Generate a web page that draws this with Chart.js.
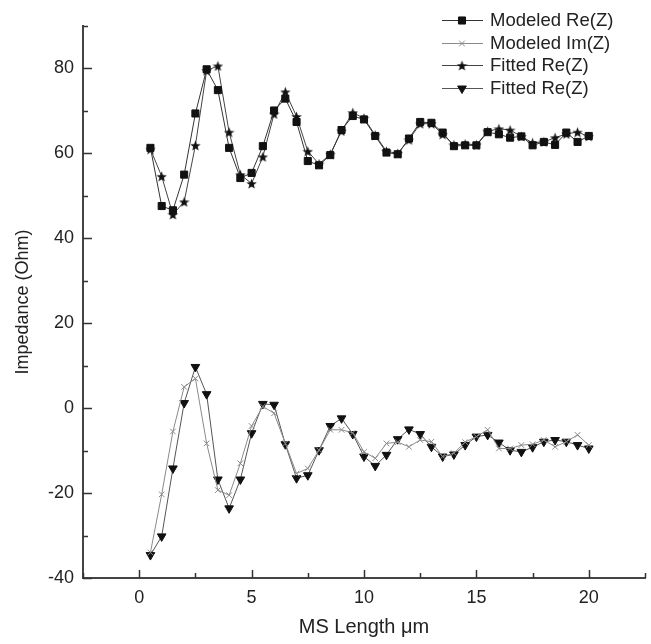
<!DOCTYPE html>
<html>
<head>
<meta charset="utf-8">
<script src="https://cdn.jsdelivr.net/npm/chart.js@4/dist/chart.umd.min.js"></script>
<style>
  html, body { margin: 0; padding: 0; background: #fff; }
  #wrap { width: 651px; height: 644px; }
</style>
</head>
<body>
<div id="wrap"><canvas id="impedanceChart" width="651" height="644"></canvas></div>
<script>
// MS length (µm)
const lengths = [0.5, 1, 1.5, 2, 2.5, 3, 3.5, 4, 4.5, 5, 5.5, 6, 6.5, 7, 7.5, 8, 8.5, 9, 9.5, 10,
                 10.5, 11, 11.5, 12, 12.5, 13, 13.5, 14, 14.5, 15, 15.5, 16, 16.5, 17, 17.5, 18, 18.5, 19, 19.5, 20];

const modeledRe = [61.3, 47.6, 46.6, 55.0, 69.4, 79.8, 74.9, 61.3, 54.2, 55.4, 61.7, 70.1, 72.9, 67.4, 58.2, 57.2, 59.6, 65.5, 68.8, 68.0,
                   64.1, 60.2, 59.8, 63.5, 67.4, 67.2, 64.9, 61.7, 61.9, 61.9, 65.0, 64.5, 63.7, 64.0, 61.9, 62.7, 62.0, 64.9, 62.7, 64.1];
const modeledIm = [-34.0, -20.3, -5.5, 5.0, 7.0, -8.3, -19.3, -20.5, -13.0, -4.2, 0.4, -1.2, -8.3, -15.4, -14.2, -9.9, -5.1, -5.1, -5.8, -10.3,
                   -11.8, -8.3, -8.0, -9.1, -7.5, -7.9, -11.4, -10.6, -8.0, -6.7, -5.1, -9.5, -9.5, -8.7, -8.5, -7.5, -9.1, -7.9, -6.3, -8.7];
const fittedRe = [61.0, 54.6, 45.6, 48.6, 61.9, 79.5, 80.6, 65.0, 55.0, 52.9, 59.2, 69.3, 74.5, 68.7, 60.5, 57.5, 59.8, 65.3, 69.6, 68.3,
                  64.3, 60.5, 60.0, 63.2, 67.0, 67.0, 64.5, 62.0, 62.2, 62.0, 65.2, 65.8, 65.5, 64.0, 62.5, 62.7, 63.7, 64.6, 65.0, 64.0];
const fittedIm = [-34.6, -30.2, -14.2, 1.2, 9.7, 3.3, -16.8, -23.6, -16.8, -5.9, 1.0, 0.8, -8.5, -16.5, -15.8, -9.9, -4.2, -2.4, -6.1, -11.4,
                  -13.6, -11.0, -7.3, -5.0, -6.1, -9.1, -11.4, -10.9, -8.7, -6.7, -6.3, -8.1, -9.9, -10.3, -9.2, -7.9, -7.5, -7.9, -8.7, -9.5];

const seriesNames = ['Modeled Re(Z)', 'Modeled Im(Z)', 'Fitted Re(Z)', 'Fitted Re(Z)'];

const xTickLabels = [0, 5, 10, 15, 20];
const yTickLabels = [-40, -20, 0, 20, 40, 60, 80];

const FONT = '"Liberation Sans", Arial, sans-serif';

// filled five-point star used as a point marker
function makeStar(size) {
    const c = document.createElement('canvas');
    c.width = size; c.height = size;
    const g = c.getContext('2d');
    const cx = size / 2, cy = size / 2 + 0.6, R = size / 2, r = R * 0.42;
    g.beginPath();
    for (let i = 0; i < 10; i++) {
        const a = -Math.PI / 2 + i * Math.PI / 5;
        const rad = i % 2 === 0 ? R : r;
        g.lineTo(cx + rad * Math.cos(a), cy + rad * Math.sin(a));
    }
    g.closePath();
    g.fillStyle = '#111';
    g.fill();
    return c;
}
const starImg = makeStar(11);

function points(values) {
    return lengths.map((x, i) => ({ x: x, y: values[i] }));
}

const datasets = [
    {
        label: seriesNames[0], data: points(modeledRe),
        borderColor: '#333', borderWidth: 1,
        pointStyle: 'rect', pointRadius: 5, pointBackgroundColor: '#111', pointBorderColor: '#111', pointBorderWidth: 1
    },
    {
        label: seriesNames[1], data: points(modeledIm),
        borderColor: '#8a8a8a', borderWidth: 1,
        pointStyle: 'crossRot', pointRadius: 4, pointBorderColor: '#8a8a8a', pointBorderWidth: 1
    },
    {
        label: seriesNames[2], data: points(fittedRe),
        borderColor: '#444', borderWidth: 1,
        pointStyle: starImg, pointRadius: 5
    },
    {
        label: seriesNames[3], data: points(fittedIm),
        borderColor: '#555', borderWidth: 1,
        pointStyle: 'triangle', rotation: 180, pointRadius: 5, pointBackgroundColor: '#111', pointBorderColor: '#111', pointBorderWidth: 1
    }
];

// inward tick marks, major and minor
const innerTicks = {
    id: 'innerTicks',
    afterDatasetsDraw(chart) {
        const ctx = chart.ctx, xs = chart.scales.x, ys = chart.scales.y;
        const a = chart.chartArea;
        ctx.save();
        ctx.strokeStyle = '#333';
        ctx.lineWidth = 1.5;
        ctx.beginPath();
        for (let v = xs.min; v <= xs.max + 1e-9; v += 2.5) {
            const px = Math.round(xs.getPixelForValue(v)) + 0.5;
            const len = (Math.abs(v % 5) < 1e-9) ? 8 : 5;
            ctx.moveTo(px, a.bottom);
            ctx.lineTo(px, a.bottom - len);
        }
        for (let v = ys.min; v <= ys.max + 1e-9; v += 10) {
            const py = Math.round(ys.getPixelForValue(v)) + 0.5;
            const len = (Math.abs(v % 20) < 1e-9) ? 9 : 5;
            ctx.moveTo(a.left, py);
            ctx.lineTo(a.left + len, py);
        }
        ctx.stroke();
        ctx.restore();
    }
};

// legend: line segment with marker, then the name
const lineLegend = {
    id: 'lineLegend',
    afterDraw(chart) {
        const ctx = chart.ctx;
        const x0 = 442, x1 = 483, xm = 462, xt = 490;
        const rows = [20, 43, 65, 88];
        ctx.save();
        chart.data.datasets.forEach((ds, i) => {
            const y = rows[i];
            ctx.strokeStyle = ds.borderColor;
            ctx.lineWidth = 1;
            ctx.beginPath();
            ctx.moveTo(x0, y + 0.5);
            ctx.lineTo(x1, y + 0.5);
            ctx.stroke();
            ctx.fillStyle = ds.pointBackgroundColor || '#111';
            ctx.strokeStyle = ds.pointBorderColor || '#111';
            ctx.lineWidth = ds.pointBorderWidth || 1;
            Chart.helpers.drawPoint(ctx, {
                pointStyle: ds.pointStyle, radius: ds.pointRadius,
                rotation: ds.rotation || 0, borderWidth: ds.pointBorderWidth || 1
            }, xm, y + 0.5);
            ctx.fillStyle = '#222';
            ctx.font = '18.5px ' + FONT;
            ctx.textBaseline = 'middle';
            ctx.fillText(ds.label, xt, y + 1);
        });
        ctx.restore();
    }
};

new Chart(document.getElementById('impedanceChart'), {
    type: 'line',
    data: { datasets: datasets },
    options: {
        responsive: false,
        animation: false,
        layout: { padding: { top: 26, right: 4, left: 0, bottom: 0 } },
        plugins: { legend: { display: false }, tooltip: { enabled: false } },
        elements: { line: { tension: 0 } },
        scales: {
            x: {
                type: 'linear', min: -2.5, max: 22.5,
                grid: { display: false, drawTicks: false },
                border: { display: true, color: '#444', width: 2 },
                afterBuildTicks: s => { s.ticks = xTickLabels.map(v => ({ value: v })); },
                afterFit: s => { s.height = 66; },
                ticks: { color: '#222', padding: 9, font: { family: FONT, size: 18 } },
                title: { display: true, text: 'MS Length \u03bcm', color: '#222', padding: { top: 4, bottom: 5 }, font: { family: FONT, size: 20 } }
            },
            y: {
                type: 'linear', min: -40, max: 90,
                grid: { display: false, drawTicks: false },
                border: { display: true, color: '#444', width: 2 },
                afterBuildTicks: s => { s.ticks = yTickLabels.map(v => ({ value: v })); },
                afterFit: s => { s.width = 83; },
                ticks: { color: '#222', padding: 9, font: { family: FONT, size: 18 } },
                title: { display: true, text: 'Impedance (Ohm)', color: '#222', padding: { top: 12, bottom: 0 }, font: { family: FONT, size: 18 } }
            }
        }
    },
    plugins: [innerTicks, lineLegend]
});
</script>
</body>
</html>
